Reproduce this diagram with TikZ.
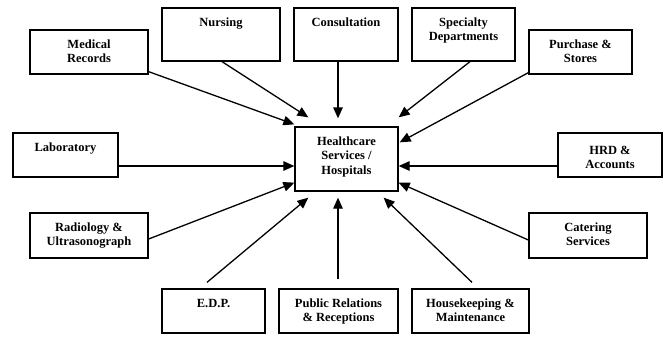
\documentclass[tikz,border=0pt]{standalone}
\usepackage{fontspec}
\setmainfont{Liberation Serif}
\usetikzlibrary{arrows.meta,calc}

% fixed-size text cell: text hangs from the top of the box
\newcommand{\cellbox}[4][18.3pt]{\parbox[c][#3][t]{#2}{\centering\rule{0pt}{#1}#4}}

\begin{document}
\begin{tikzpicture}[x=1pt,y=-1pt,
  unit/.style={draw=black,line width=1.3pt,inner sep=0pt,fill=white,
    font=\fontsize{12.5}{14.5}\selectfont\bfseries},
  feed/.style={line width=1.3pt,-{Triangle[length=11pt,width=9.5pt]}}]

\useasboundingbox[fill=white] (0,0) rectangle (669,338);

% centre
\node[unit] (hosp) at (346.5,159) {\cellbox{103pt}{64pt}{Healthcare\\Services /\\Hospitals}};

% top row
\node[unit] (med)   at (89,52)     {\cellbox{118pt}{44pt}{Medical\\Records}};
\node[unit] (nurs)  at (221,34.5)  {\cellbox{118pt}{53pt}{Nursing}};
\node[unit] (cons)  at (346,34.5)  {\cellbox{104pt}{53pt}{Consultation}};
\node[unit] (spec)  at (463.5,34.5){\cellbox{103pt}{53pt}{Specialty\\Departments}};
\node[unit] (purch) at (580.5,52)  {\cellbox{103pt}{44pt}{Purchase \&\\Stores}};

% middle row
\node[unit] (lab) at (65.5,155) {\cellbox{105pt}{44pt}{Laboratory}};
\node[unit] (hrd) at (610,155)  {\cellbox[21pt]{104pt}{44pt}{HRD \&\\Accounts}};

% lower row
\node[unit] (rad) at (89,235.5)  {\cellbox{118pt}{45pt}{Radiology \&\\Ultrasonograph}};
\node[unit] (cat) at (588,235.5) {\cellbox{118pt}{45pt}{Catering\\Services}};

% bottom row
\node[unit] (edp) at (213.5,311) {\cellbox{103pt}{44pt}{E.D.P.}};
\node[unit] (pr)  at (338.5,311) {\cellbox{119pt}{44pt}{Public Relations\\\& Receptions}};
\node[unit] (hk)  at (470.5,311) {\cellbox{117pt}{44pt}{Housekeeping \&\\Maintenance}};

% connectors into the centre
\draw[feed] ($(med.south east)+(0,-3)$)  -- ($(hosp.north west)+(0,-2)$);
\draw[feed] ($(nurs.south)+(1,0)$)       -- ($(hosp.north west)+(14,-9)$);
\draw[feed] ($(cons.south)+(-8,0)$)      -- ($(hosp.north)+(-8.5,-8)$);
\draw[feed] ($(spec.south)+(6.5,0)$)     -- ($(hosp.north east)+(0,-9)$);
\draw[feed] ($(purch.south west)+(0,-2)$)-- ($(hosp.north east)+(1,16)$);
\draw[feed] ($(lab.east)+(0,11)$)        -- ($(hosp.west)+(0,7)$);
\draw[feed] ($(hrd.west)+(0,11)$)        -- ($(hosp.east)+(0,7)$);
\draw[feed] ($(rad.east)+(0,3.5)$)       -- ($(hosp.south west)+(0,-9)$);
\draw[feed] ($(cat.west)+(0,4.5)$)       -- ($(hosp.south east)+(0,-9)$);
\draw[feed] ($(edp.north)+(-6.5,-6)$)    -- ($(hosp.south west)+(14,6)$);
\draw[feed] ($(pr.north)+(-0.5,-9)$)     -- ($(hosp.south)+(-8.5,6)$);
\draw[feed] ($(hk.north)+(1.5,-6)$)      -- ($(hosp.south east)+(-15,6)$);

\end{tikzpicture}
\end{document}
